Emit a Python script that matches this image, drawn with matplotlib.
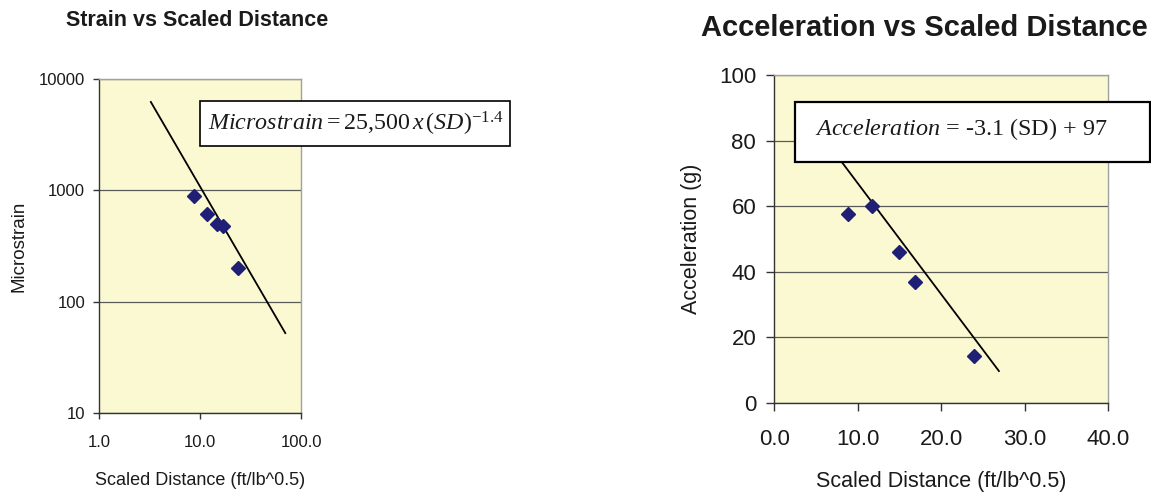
import matplotlib
matplotlib.use("Agg")
import matplotlib.pyplot as plt
from matplotlib.patches import Rectangle
from matplotlib.ticker import FixedLocator, FixedFormatter, NullLocator

plt.rcParams['font.family'] = ['Liberation Sans', 'DejaVu Sans']
plt.rcParams['mathtext.fontset'] = 'custom'
plt.rcParams['mathtext.rm'] = 'Liberation Serif'
plt.rcParams['mathtext.it'] = 'Liberation Serif:italic'

# ---- data ----
scaled_distance = [8.8, 11.7, 14.9, 16.8, 23.9]
microstrain = [890, 615, 497, 480, 201]
acceleration = [57.7, 60.0, 46.1, 36.9, 14.3]

strain_trend_sd = [3.26, 69.9]
strain_trend_val = [6220, 52.2]
acc_trend_sd = [6.5, 26.9]
acc_trend_val = [78.8, 9.66]

strain_xticks = [1, 10, 100]
strain_xlabels = ["1.0", "10.0", "100.0"]
strain_yticks = [10, 100, 1000, 10000]
strain_ylabels = ["10", "100", "1000", "10000"]
acc_xticks = [0, 10, 20, 30, 40]
acc_xlabels = ["0.0", "10.0", "20.0", "30.0", "40.0"]
acc_yticks = [0, 20, 40, 60, 80, 100]

title_left = "Strain vs Scaled Distance"
title_right = "Acceleration vs Scaled Distance"
xlabel = "Scaled Distance (ft/lb^0.5)"
eq_left = r"$\mathit{Microstrain} = 25{,}500\,x\,(\mathit{SD})^{-1.4}$"
eq_right = r"$\mathit{Acceleration}$ = -3.1 (SD) + 97"

W, H = 1151, 497
fig = plt.figure(figsize=(W / 100, H / 100), dpi=100)

BG = "#FBF9D2"
NAVY = "#1F1F75"
GRID = "#5a5a5a"


def style(ax, ticklen, tickfs, pad):
    ax.set_facecolor(BG)
    for s in ("top", "right"):
        ax.spines[s].set_color("#a0a0a0")
        ax.spines[s].set_linewidth(1.0)
    for s in ("left", "bottom"):
        ax.spines[s].set_color("#333333")
        ax.spines[s].set_linewidth(1.0)
    ax.tick_params(axis="both", which="major", direction="out", length=ticklen,
                   width=1.0, color="#333333", labelsize=tickfs, labelcolor="#1a1a1a")
    ax.tick_params(axis="x", pad=pad[0])
    ax.tick_params(axis="y", pad=pad[1])
    ax.grid(axis="y", color=GRID, linewidth=0.9)
    ax.set_axisbelow(True)


# ---- left: strain (log-log) ----
ax1 = fig.add_axes([99 / W, 1 - 413 / H, 202 / W, 334 / H])
ax1.set_xscale("log")
ax1.set_yscale("log")
ax1.set_xlim(1, 100)
ax1.set_ylim(10, 10000)
ax1.xaxis.set_major_locator(FixedLocator(strain_xticks))
ax1.xaxis.set_major_formatter(FixedFormatter(strain_xlabels))
ax1.yaxis.set_major_locator(FixedLocator(strain_yticks))
ax1.yaxis.set_major_formatter(FixedFormatter(strain_ylabels))
ax1.xaxis.set_minor_locator(NullLocator())
ax1.yaxis.set_minor_locator(NullLocator())
style(ax1, 4, 12, (12, 6))
ax1.plot(strain_trend_sd, strain_trend_val, color="black", lw=1.3, zorder=3)
ax1.plot(scaled_distance, microstrain, linestyle="none", marker="D", ms=7.5,
         color=NAVY, zorder=4)
ax1.set_xlabel(xlabel, fontsize=13, labelpad=16, color="#1a1a1a")
ax1.set_ylabel("Microstrain", fontsize=13.5, labelpad=8, color="#1a1a1a")

# ---- right: acceleration (linear) ----
ax2 = fig.add_axes([774.3 / W, 1 - 402.7 / H, 334 / W, 327.7 / H])
ax2.set_xlim(0, 40)
ax2.set_ylim(0, 100)
ax2.xaxis.set_major_locator(FixedLocator(acc_xticks))
ax2.xaxis.set_major_formatter(FixedFormatter(acc_xlabels))
ax2.yaxis.set_major_locator(FixedLocator(acc_yticks))
style(ax2, 6, 16, (13, 7))
ax2.plot(acc_trend_sd, acc_trend_val, color="black", lw=1.3, zorder=3)
ax2.plot(scaled_distance, acceleration, linestyle="none", marker="D", ms=7.5,
         color=NAVY, zorder=4)
ax2.set_xlabel(xlabel, fontsize=15.5, labelpad=15, color="#1a1a1a")
ax2.set_ylabel("Acceleration (g)", fontsize=15.5, labelpad=12, color="#1a1a1a")

# ---- titles ----
fig.text(197 / W, 1 - 20 / H, title_left, ha="center", va="center",
         fontsize=15.5, fontweight="bold", color="#1a1a1a")
fig.text(924 / W, 1 - 28 / H, title_right, ha="center", va="center",
         fontsize=21, fontweight="bold", color="#1a1a1a")

# ---- equation boxes ----
fig.add_artist(Rectangle((200 / W, 1 - 146 / H), 310 / W, 45 / H,
                         transform=fig.transFigure, facecolor="white",
                         edgecolor="black", lw=1.2, zorder=10))
fig.text(356 / W, 1 - 124 / H, eq_left, ha="center", va="center",
         fontsize=17.3, color="#1a1a1a", zorder=11)

fig.add_artist(Rectangle((795 / W, 1 - 161.7 / H), 355 / W, 59.4 / H,
                         transform=fig.transFigure, facecolor="white",
                         edgecolor="black", lw=1.6, zorder=10))
fig.text(961.5 / W, 1 - 129 / H, eq_right, ha="center", va="center",
         fontsize=17.4, family="Liberation Serif", color="#1a1a1a", zorder=11)

fig.savefig("out.png", dpi=100)
